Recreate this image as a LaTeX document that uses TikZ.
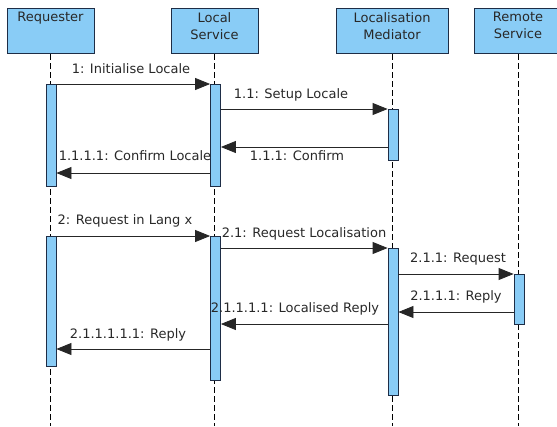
\documentclass[tikz,border=0pt]{standalone}
\usepackage{fontspec}
\setmainfont{DejaVu Sans}
\usetikzlibrary{arrows.meta}
\definecolor{boxfill}{RGB}{137,204,246}
\definecolor{boxline}{RGB}{30,45,70}
\definecolor{txt}{RGB}{40,40,40}
\begin{document}
\begin{tikzpicture}[x=1pt,y=-1pt,
  font=\fontsize{13}{17}\selectfont,
  hdr/.style={draw=boxline, fill=boxfill, line width=1pt, minimum width=87pt, minimum height=45pt, anchor=north, inner sep=0pt},
  hdrtext/.style={anchor=north, align=center, inner sep=0pt, yshift=-4pt, text=txt},
  act/.style={draw=boxline, fill=boxfill, line width=0.8pt, minimum width=10pt, anchor=north, inner sep=0pt},
  life/.style={draw=black, line width=0.7pt, dash pattern=on 6pt off 3pt},
  msg/.style={draw=black!85, line width=0.8pt, -{Triangle[length=15pt,width=12pt]}},
  lbl/.style={text=txt, inner sep=0pt, anchor=base}]
\useasboundingbox (0,0) rectangle (557,426);
\coordinate (bot) at (0,426);
% headers
\node[hdr, label={[hdrtext]north:Requester}] (req) at (50.5,8) {};
\node[hdr, label={[hdrtext]north:Local\\Service}] (ls) at (214.5,8) {};
\node[hdr, minimum width=112pt, label={[hdrtext]north:Localisation\\Mediator}] (med) at (392,8) {};
\node[hdr, minimum width=100pt, anchor=north west] (rem) at (474,8) {};
\node[hdrtext] (remt) at (518,8) {Remote\\Service};
% lifelines
\draw[life] (req.south) -- (req.south |- bot);
\draw[life] (ls.south) -- (ls.south |- bot);
\draw[life] (med.south) -- (med.south |- bot);
\draw[life] (remt.south |- rem.south) -- (remt.south |- bot);
% activations
\node[act, minimum height=102pt] (ra1) at (51,84) {};
\node[act, minimum height=102pt] (la1) at (215.5,84) {};
\node[act, minimum height=51pt] (ma1) at (393,109) {};
\node[act, minimum height=130pt] (ra2) at (51,236) {};
\node[act, minimum height=144pt] (la2) at (215.5,236) {};
\node[act, minimum height=147pt] (ma2) at (393,248) {};
\node[act, minimum height=50pt] (rema) at (519,274) {};
% message levels
\coordinate (y1) at (0,84);
\coordinate (y11) at (0,109);
\coordinate (y111) at (0,147);
\coordinate (y1111) at (0,173);
\coordinate (y2) at (0,236);
\coordinate (y21) at (0,248);
\coordinate (y211) at (0,274);
\coordinate (y2111) at (0,312);
\coordinate (y21111) at (0,324);
\coordinate (y211111) at (0,349);
% messages
\draw[msg] (ra1.east |- y1) -- (la1.west |- y1);
\draw[msg] (la1.east |- y11) -- (ma1.west |- y11);
\draw[msg] (ma1.west |- y111) -- (la1.east |- y111);
\draw[msg] (la1.west |- y1111) -- (ra1.east |- y1111);
\draw[msg] (ra2.east |- y2) -- (la2.west |- y2);
\draw[msg] (la2.east |- y21) -- (ma2.west |- y21);
\draw[msg] (ma2.east |- y211) -- (rema.west |- y211);
\draw[msg] (rema.west |- y2111) -- (ma2.east |- y2111);
\draw[msg] (ma2.west |- y21111) -- (la2.east |- y21111);
\draw[msg] (la2.west |- y211111) -- (ra2.east |- y211111);
% labels
\node[lbl] (l1) at (131,73) {1: Initialise Locale};
\node[lbl] (l11) at (291,98) {1.1: Setup Locale};
\node[lbl] (l111) at (297,160) {1.1.1: Confirm};
\node[lbl] (l1111) at (135,160) {1.1.1.1: Confirm Locale};
\node[lbl] (l2) at (125,224) {2: Request in Lang x};
\node[lbl] (l21) at (304,237) {2.1: Request Localisation};
\node[lbl] (l211) at (458,262) {2.1.1: Request};
\node[lbl] (l2111) at (456,300) {2.1.1.1: Reply};
\node[lbl] (l21111) at (295,312) {2.1.1.1.1: Localised Reply};
\node[lbl] (l211111) at (128,338) {2.1.1.1.1.1: Reply};
\end{tikzpicture}
\end{document}
